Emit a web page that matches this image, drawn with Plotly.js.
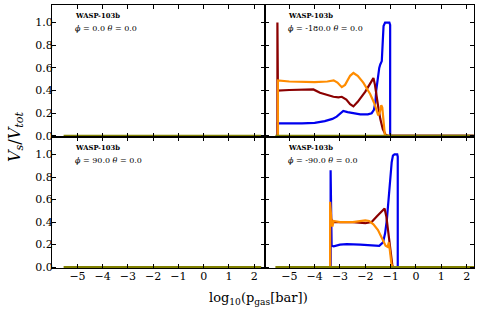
<!DOCTYPE html>
<html>
<head>
<meta charset="utf-8">
<script src="https://cdn.plot.ly/plotly-3.0.1.min.js"></script>
<style>html,body{margin:0;padding:0;background:#fff;}#plot{width:482px;height:317px;}</style>
</head>
<body>
<div id="plot"></div>
<script>
// ---- data ----
const panelLabels = ["WASP-103b", "WASP-103b", "WASP-103b", "WASP-103b"];
const phiValues = ["0.0", "-180.0", "90.0", "-90.0"];
const thetaValues = ["0.0", "0.0", "0.0", "0.0"];
const xTicks = [-5, -4, -3, -2, -1, 0, 1, 2];
const yTicks = [0.0, 0.2, 0.4, 0.6, 0.8, 1.0];

// zero line (all species zero) spanning the pressure grid
const zeroX = [-5.55, 2.28];
const zeroY = [0, 0];

// phi = -180
const m180BlueX = [-5.45, -5.45, -4.5, -4.0, -3.6, -3.3, -3.13, -2.95, -2.87, -2.7, -2.5, -2.2, -1.9, -1.75, -1.66, -1.6, -1.57, -1.51, -1.45, -1.41, -1.35, -1.31, -1.28, -1.22, -1.05, -1.02, -1.02, 2.28];
const m180BlueY = [0, 0.11, 0.11, 0.115, 0.13, 0.15, 0.17, 0.21, 0.22, 0.21, 0.20, 0.19, 0.19, 0.20, 0.23, 0.30, 0.40, 0.51, 0.60, 0.63, 0.66, 0.84, 0.97, 1.0, 1.0, 0.98, 0, 0];
const m180RedX = [-5.47, -5.47, -5.45, -5.0, -4.5, -4.05, -3.79, -3.5, -3.26, -3.06, -2.93, -2.75, -2.6, -2.47, -2.3, -2.0, -1.8, -1.68, -1.62, -1.55, -1.48, -1.41, -1.31, -1.2, -1.1, 2.28];
const m180RedY = [0, 1.0, 0.40, 0.405, 0.41, 0.41, 0.38, 0.36, 0.345, 0.34, 0.345, 0.32, 0.28, 0.26, 0.30, 0.39, 0.46, 0.51, 0.45, 0.33, 0.24, 0.15, 0.06, 0.01, 0, 0];
const m180OrangeX = [-5.45, -5.45, -5.0, -4.5, -4.0, -3.5, -3.25, -3.1, -2.93, -2.8, -2.6, -2.47, -2.3, -2.08, -1.81, -1.65, -1.55, -1.49, -1.43, -1.37, -1.33, -1.28, -1.23, -1.18, 2.28];
const m180OrangeY = [0, 0.49, 0.48, 0.475, 0.475, 0.48, 0.49, 0.47, 0.43, 0.45, 0.53, 0.555, 0.53, 0.47, 0.37, 0.29, 0.21, 0.18, 0.21, 0.27, 0.25, 0.10, 0.01, 0, 0];

// phi = -90
const m90BlueX = [-3.37, -3.37, -3.33, -3.25, -3.0, -2.73, -2.2, -1.7, -1.45, -1.30, -1.22, -1.15, -1.08, -1.02, -0.96, -0.91, -0.85, -0.74, -0.72, -0.72, 2.28];
const m90BlueY = [0, 0.86, 0.19, 0.185, 0.20, 0.205, 0.20, 0.19, 0.19, 0.22, 0.30, 0.42, 0.62, 0.72, 0.93, 0.99, 1.0, 1.0, 0.98, 0, 0];
const m90RedX = [-3.39, -3.39, -3.3, -3.0, -2.5, -2.0, -1.75, -1.55, -1.35, -1.24, -1.17, -1.08, -1.0, -0.93, -0.88, 2.28];
const m90RedY = [0, 0.45, 0.40, 0.40, 0.40, 0.39, 0.40, 0.45, 0.50, 0.52, 0.45, 0.28, 0.10, 0.01, 0, 0];
const m90OrangeX = [-3.39, -3.39, -3.34, -3.30, -3.25, -3.0, -2.5, -2.0, -1.85, -1.68, -1.5, -1.35, -1.2, -1.12, -1.07, -1.02, -0.97, -0.92, 2.28];
const m90OrangeY = [0, 0.58, 0.42, 0.36, 0.41, 0.40, 0.40, 0.415, 0.41, 0.38, 0.33, 0.26, 0.19, 0.18, 0.22, 0.13, 0.03, 0, 0];

// ---- styles ----
const BLUE = "#0000ee", RED = "#8b0000", ORANGE = "#ff8c00", OLIVE = "#808000";
const LW = 2.2;
const SERIF = "DejaVu Serif";

function line(x, y, color, xa, ya) {
  return {x: x, y: y, type: "scatter", mode: "lines", xaxis: xa, yaxis: ya,
          line: {color: color, width: LW}, hoverinfo: "skip", showlegend: false};
}

const P = [["x", "y"], ["x2", "y2"], ["x3", "y3"], ["x4", "y4"]];
const traces = [];
traces.push(line(zeroX, zeroY, OLIVE, P[0][0], P[0][1]));
traces.push(line(m180BlueX, m180BlueY, BLUE, P[1][0], P[1][1]));
traces.push(line(m180RedX, m180RedY, RED, P[1][0], P[1][1]));
traces.push(line(m180OrangeX, m180OrangeY, ORANGE, P[1][0], P[1][1]));
traces.push(line(zeroX, zeroY, OLIVE, P[1][0], P[1][1]));
traces.push(line(zeroX, zeroY, OLIVE, P[2][0], P[2][1]));
traces.push(line(m90BlueX, m90BlueY, BLUE, P[3][0], P[3][1]));
traces.push(line(m90RedX, m90RedY, RED, P[3][0], P[3][1]));
traces.push(line(m90OrangeX, m90OrangeY, ORANGE, P[3][0], P[3][1]));
traces.push(line(zeroX, zeroY, OLIVE, P[3][0], P[3][1]));

const W = 482, H = 317;
const xL = [52 / W, 265 / W], xR = [265 / W, 474 / W];
const yT = [1 - 137 / H, 1 - 5 / H], yB = [1 - 268.3 / H, 1 - 137 / H];
const tickFont = {family: SERIF, size: 11, color: "#000"};

function xax(domain, range, showLabels, anchor) {
  return {domain: domain, range: range, anchor: anchor, tickvals: xTicks,
          ticktext: xTicks.map(v => (v < 0 ? "\u2212" + Math.abs(v) : String(v))),
          showticklabels: showLabels, ticks: "inside", ticklen: 4, tickwidth: 1, tickcolor: "#000",
          ticklabelstandoff: -3,
          mirror: "allticks", showline: true, linecolor: "#000", linewidth: 1,
          showgrid: false, zeroline: false, tickfont: tickFont, fixedrange: true};
}
function yax(domain, showLabels, anchor) {
  return {domain: domain, range: [-0.01, 1.155], anchor: anchor, tickvals: yTicks,
          ticktext: yTicks.map(v => v.toFixed(1)),
          showticklabels: showLabels, ticks: "inside", ticklen: 4, tickwidth: 1, tickcolor: "#000",
          ticklabelstandoff: -4,
          mirror: "allticks", showline: true, linecolor: "#000", linewidth: 1,
          showgrid: false, zeroline: false, tickfont: tickFont, fixedrange: true};
}

const labFont = {family: SERIF, size: 6.8, color: "#000"};
const angFont = {family: SERIF, size: 8, color: "#000"};
const annotations = [];
const corners = [[73, 5], [286, 5], [73, 137], [286, 137]];
for (let i = 0; i < 4; i++) {
  const [px, top] = corners[i];
  annotations.push({xref: "paper", yref: "paper", x: px / W, y: 1 - (top + 10.5) / H,
    xanchor: "left", yanchor: "middle", showarrow: false,
    text: "<b>" + panelLabels[i] + "</b>", font: labFont});
  annotations.push({xref: "paper", yref: "paper", x: px / W, y: 1 - (top + 24) / H,
    xanchor: "left", yanchor: "middle", showarrow: false,
    text: "<i>\u03d5</i> = " + phiValues[i] + " <i>\u03b8</i> = " + thetaValues[i], font: angFont});
}
annotations.push({xref: "paper", yref: "paper", x: 258 / W, y: 1 - 298 / H,
  xanchor: "center", yanchor: "middle", showarrow: false,
  text: "log<sub>10</sub>(p<sub>gas</sub>[bar])",
  font: {family: SERIF, size: 13, color: "#000"}});
annotations.push({xref: "paper", yref: "paper", x: 15 / W, y: 1 - 137 / H,
  xanchor: "center", yanchor: "middle", showarrow: false, textangle: -90,
  text: "<i>V</i><sub><i>s</i></sub>/<i>V</i><sub><i>tot</i></sub>",
  font: {family: SERIF, size: 16, color: "#000"}});

const layout = {
  width: W, height: H, margin: {l: 0, r: 0, t: 0, b: 0},
  paper_bgcolor: "#fff", plot_bgcolor: "#fff", showlegend: false,
  font: {family: SERIF, color: "#000"},
  xaxis: xax(xL, [-6.01, 2.43], false, "y"),
  yaxis: yax(yT, true, "x"),
  xaxis2: xax(xR, [-5.96, 2.29], false, "y2"),
  yaxis2: yax(yT, false, "x2"),
  xaxis3: xax(xL, [-6.01, 2.43], true, "y3"),
  yaxis3: yax(yB, true, "x3"),
  xaxis4: xax(xR, [-5.96, 2.29], true, "y4"),
  yaxis4: yax(yB, false, "x4"),
  annotations: annotations
};

Plotly.newPlot("plot", traces, layout, {displayModeBar: false, staticPlot: true});
</script>
</body>
</html>
